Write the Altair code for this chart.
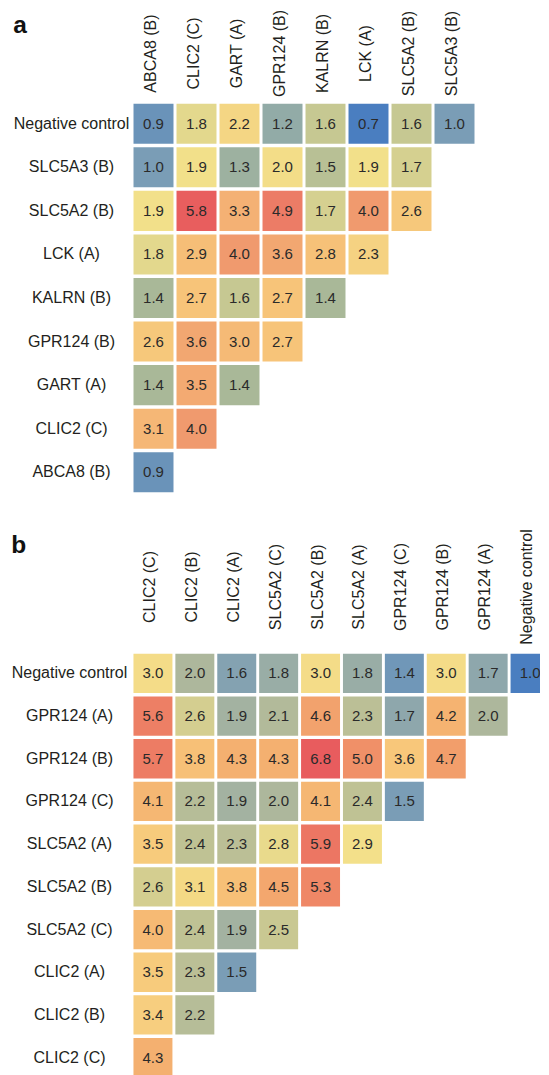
import altair as alt
import pandas as pd

FONT = "Liberation Sans"

cols_a = ["ABCA8 (B)", "CLIC2 (C)", "GART (A)", "GPR124 (B)", "KALRN (B)",
          "LCK (A)", "SLC5A2 (B)", "SLC5A3 (B)"]
rows_a = ["Negative control", "SLC5A3 (B)", "SLC5A2 (B)", "LCK (A)", "KALRN (B)",
          "GPR124 (B)", "GART (A)", "CLIC2 (C)", "ABCA8 (B)"]
vals_a = [
    [0.9, 1.8, 2.2, 1.2, 1.6, 0.7, 1.6, 1.0],
    [1.0, 1.9, 1.3, 2.0, 1.5, 1.9, 1.7],
    [1.9, 5.8, 3.3, 4.9, 1.7, 4.0, 2.6],
    [1.8, 2.9, 4.0, 3.6, 2.8, 2.3],
    [1.4, 2.7, 1.6, 2.7, 1.4],
    [2.6, 3.6, 3.0, 2.7],
    [1.4, 3.5, 1.4],
    [3.1, 4.0],
    [0.9],
]

cols_b = ["CLIC2 (C)", "CLIC2 (B)", "CLIC2 (A)", "SLC5A2 (C)", "SLC5A2 (B)",
          "SLC5A2 (A)", "GPR124 (C)", "GPR124 (B)", "GPR124 (A)", "Negative control"]
rows_b = ["Negative control", "GPR124 (A)", "GPR124 (B)", "GPR124 (C)", "SLC5A2 (A)",
          "SLC5A2 (B)", "SLC5A2 (C)", "CLIC2 (A)", "CLIC2 (B)", "CLIC2 (C)"]
vals_b = [
    [3.0, 2.0, 1.6, 1.8, 3.0, 1.8, 1.4, 3.0, 1.7, 1.0],
    [5.6, 2.6, 1.9, 2.1, 4.6, 2.3, 1.7, 4.2, 2.0],
    [5.7, 3.8, 4.3, 4.3, 6.8, 5.0, 3.6, 4.7],
    [4.1, 2.2, 1.9, 2.0, 4.1, 2.4, 1.5],
    [3.5, 2.4, 2.3, 2.8, 5.9, 2.9],
    [2.6, 3.1, 3.8, 4.5, 5.3],
    [4.0, 2.4, 1.9, 2.5],
    [3.5, 2.3, 1.5],
    [3.4, 2.2],
    [4.3],
]

stops_a = [0.7, 1.0, 1.4, 1.9, 2.7, 4.0, 5.8]
colors_a = ["#4a7ec0", "#7a9db6", "#a9b898", "#f2e08a", "#f7c479", "#f09a6e", "#e85e5e"]
stops_b = [1.0, 1.5, 2.0, 2.4, 2.9, 3.6, 4.3, 5.0, 6.8]
colors_b = ["#4a7ec0", "#7a9db6", "#adb79c", "#bfc294", "#f3e08a", "#f8c77a",
            "#f4b070", "#f09068", "#e85c5e"]


def to_frame(rows, cols, vals):
    recs = []
    for r, row in zip(rows, vals):
        for c, v in zip(cols, row):
            recs.append({"row": r, "col": c, "value": v, "label": f"{v:.1f}"})
    return pd.DataFrame(recs)


def panel(rows, cols, vals, letter, width, height, stops, colors, xpad, ypad, lx, ly):
    df = to_frame(rows, cols, vals)
    x = alt.X("col:N", sort=cols,
              scale=alt.Scale(domain=cols, paddingInner=0.07, paddingOuter=0.035),
              axis=alt.Axis(orient="top", title=None, labelAngle=270, labelAlign="center",
                            labelBaseline="middle", labelPadding=xpad, labelOffset=-3,
                            ticks=False, domain=False, labelFontSize=16, labelFont=FONT,
                            labelColor="#231f20", labelLimit=300))
    y = alt.Y("row:N", sort=rows,
              scale=alt.Scale(domain=rows, paddingInner=0.08, paddingOuter=0.04),
              axis=alt.Axis(title=None, labelAlign="center", labelBaseline="middle",
                            labelPadding=ypad, ticks=False, domain=False,
                            labelFontSize=16, labelFont=FONT, labelColor="#231f20",
                            labelLimit=300))
    base = alt.Chart(df)
    rect = base.mark_rect().encode(
        x=x, y=y,
        color=alt.Color("value:Q", scale=alt.Scale(domain=stops, range=colors,
                                                   interpolate="rgb"), legend=None))
    text = base.mark_text(fontSize=15, font=FONT, color="#2a2a2a").encode(
        x=x, y=y, text="label:N")
    lab = alt.Chart(pd.DataFrame({"t": [letter]})).mark_text(
        fontSize=24.5, fontWeight="bold", font=FONT, align="left", baseline="top",
        color="#111111").encode(text="t:N", x=alt.value(lx), y=alt.value(ly))
    return alt.layer(rect, text, lab).properties(width=width, height=height)


pa = panel(rows_a, cols_a, vals_a, "a", 344, 392, stops_a, colors_a,
           49, 61, -118.8, -88.5)
pb = panel(rows_b, cols_b, vals_b, "b", 419, 427, stops_b, colors_b,
           65.5, 63, -120.8, -118.5)

chart = alt.vconcat(pa, pb, spacing=34).resolve_scale(color="independent").properties(
    padding={"left": 3, "top": 1, "right": -11, "bottom": 0}
).configure_view(stroke=None)

chart.save("out.html", embed_options={"renderer": "svg", "actions": False})
